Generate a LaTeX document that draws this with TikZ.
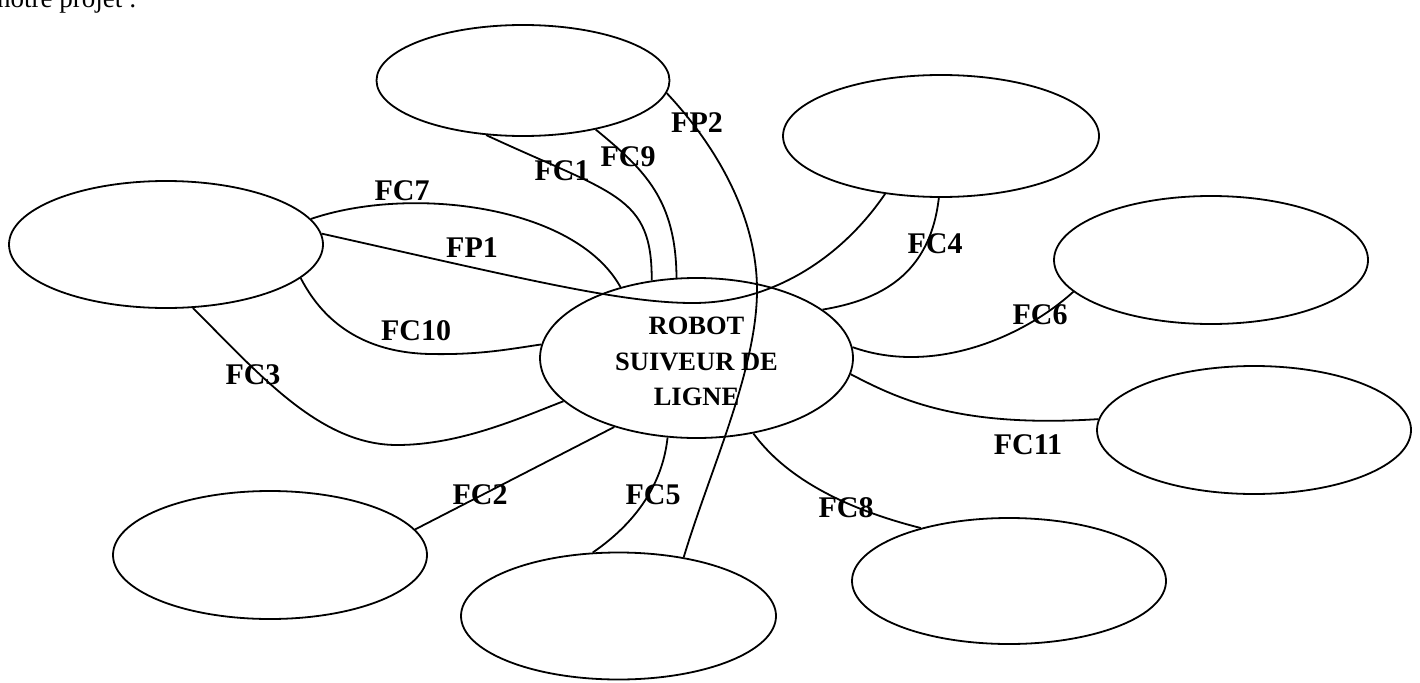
\documentclass[tikz,border=0pt]{standalone}
\usepackage{fontspec}
\setmainfont{Liberation Serif}
\usetikzlibrary{shapes.geometric}
\begin{document}
\begin{tikzpicture}[x=1pt,y=-1pt,
  bub/.style={draw,ellipse,line width=1.8pt,inner sep=0pt},
  conn/.style={line width=1.8pt},
  lbl/.style={font=\fontsize{30}{30}\selectfont\bfseries,inner sep=0pt}]
\useasboundingbox (0,0) rectangle (1420,682);
% intro text
\node[anchor=base west,inner sep=0pt,font=\fontsize{27}{27}\selectfont] (intro) at (-3,8) {notre projet :};
% ellipses
\node[bub,minimum width=293pt,minimum height=111pt] (top) at (523,80.5) {};
\node[bub,minimum width=316pt,minimum height=122pt] (tr) at (941,136) {};
\node[bub,minimum width=314pt,minimum height=127pt] (left) at (166,244.5) {};
\node[bub,minimum width=314pt,minimum height=128pt] (r1) at (1211,260) {};
\node[bub,minimum width=313pt,minimum height=160pt] (c) at (696.5,358) {};
\node[bub,minimum width=314pt,minimum height=128pt] (r2) at (1254,430) {};
\node[bub,minimum width=314pt,minimum height=128pt] (bl) at (270,555) {};
\node[bub,minimum width=315pt,minimum height=127pt] (bm) at (618.5,616) {};
\node[bub,minimum width=314pt,minimum height=126pt] (br) at (1009,581) {};
\node[inner sep=0pt,align=center,font=\fontsize{26.5}{35.5}\selectfont\bfseries] (ctext) at (696.5,361.5) {ROBOT\\SUIVEUR DE\\LIGNE};
% connectors
\draw[conn] (top.-124.4) .. controls (615,195) and (652,195) .. (c.120.2);
\draw[conn] (top.-34.8) .. controls (645,170) and (676,200) .. (c.104.4);
\draw[conn] (top.-5.4) .. controls (720,150) and (757,220) .. (757,290) .. controls (757,370) and (710,470) .. (bm.42.4);
\draw[conn] (left.10.5) .. controls (410,185) and (575,205) .. (c.137.6);
\draw[conn] (left.4.6) .. controls (520,278) and (620,303) .. (693,303) .. controls (770,303) and (840,260) .. (tr.-134);
\draw[conn] (tr.-92.8) .. controls (930,275) and (880,300) .. (c.21.7);
\draw[conn] (r1.-167.8) .. controls (1020,340) and (930,375) .. (c.4.7);
\draw[conn] (c.-6.6) .. controls (900,400) and (960,428) .. (r2.176.4);
\draw[conn] (c.-53) .. controls (780,470) and (830,505) .. (br.149.3);
\draw[conn] (c.-110.4) .. controls (663,480) and (640,520) .. (bm.112);
\draw[conn] (c.-140.4) -- (bl.10.3);
\draw[conn] (left.-67) .. controls (260,375) and (320,445) .. (397,445) .. controls (460,445) and (520,418) .. (c.-162.5);
\draw[conn] (left.-14.6) .. controls (330,335) and (380,353) .. (430,354) .. controls (480,355) and (510,349) .. (c.175.6);
% labels
\node[lbl] (lFP2) at (697,123) {FP2};
\node[lbl] (lFC9) at (628,157) {FC9};
\node[lbl] (lFC1) at (562,171) {FC1};
\node[lbl] (lFC7) at (402,191) {FC7};
\node[lbl] (lFP1) at (472,248) {FP1};
\node[lbl] (lFC10) at (416,331) {FC10};
\node[lbl] (lFC3) at (253,375) {FC3};
\node[lbl] (lFC4) at (935,244) {FC4};
\node[lbl] (lFC6) at (1040,315) {FC6};
\node[lbl] (lFC11) at (1028,445) {FC11};
\node[lbl] (lFC2) at (480,495) {FC2};
\node[lbl] (lFC5) at (653,495) {FC5};
\node[lbl] (lFC8) at (846,508) {FC8};
\end{tikzpicture}
\end{document}
